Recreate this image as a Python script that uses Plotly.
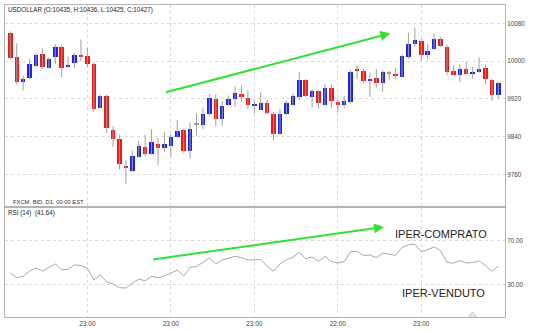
import plotly.graph_objects as go

# Daily USDOLLAR candles (FXCM, bid)
opens = [10059, 10009, 9956, 9965, 9989, 10015, 9985, 10008, 10031, 9988,
         9996, 10014, 10010, 9993, 9901, 9926, 9854, 9834, 9777, 9767,
         9797, 9819, 9804, 9824, 9815, 9821, 9840, 9853, 9810, 9865,
         9865, 9887, 9919, 9877, 9907, 9919, 9931, 9922, 9906, 9897,
         9911, 9888, 9846, 9888, 9908, 9925, 9961, 9925, 9936, 9908,
         9944, 9914, 9908, 9914, 9983, 9980, 9958, 9964, 9954, 9974,
         9972, 9967, 10009, 10037, 10042, 10013, 10025, 10046, 10029, 9980,
         9971, 9983, 9972, 9976, 9986, 9960, 9929]
highs = [10063, 10038, 9969, 10004, 10017, 10027, 10008, 10036, 10033, 10009,
         10017, 10046, 10028, 9997, 9929, 9929, 9862, 9844, 9790, 9810,
         9831, 9844, 9855, 9837, 9849, 9844, 9875, 9856, 9870, 9889,
         9900, 9931, 9929, 9915, 9927, 9947, 9949, 9938, 9919, 9934,
         9919, 9892, 9898, 9916, 9931, 9977, 9962, 9940, 9938, 9951,
         9951, 9919, 9926, 9981, 9992, 9983, 9976, 9983, 9981, 9979,
         9986, 10014, 10060, 10071, 10048, 10037, 10059, 10051, 10035, 9991,
         9993, 9999, 9988, 10009, 9993, 9962, 9956]
lows = [10004, 9950, 9938, 9962, 9987, 9983, 9984, 9994, 9966, 9985,
        9985, 10000, 9988, 9893, 9899, 9847, 9818, 9771, 9740, 9764,
        9795, 9798, 9802, 9779, 9808, 9797, 9838, 9806, 9794, 9842,
        9856, 9883, 9862, 9863, 9905, 9903, 9915, 9898, 9890, 9896,
        9886, 9832, 9844, 9885, 9906, 9918, 9924, 9901, 9899, 9907,
        9901, 9891, 9901, 9910, 9962, 9954, 9924, 9944, 9935, 9960,
        9962, 9966, 10004, 10030, 10001, 10004, 10024, 10030, 9970, 9970,
        9956, 9971, 9963, 9975, 9951, 9917, 9920]
closes = [10007, 9956, 9962, 9993, 10013, 9988, 10005, 10029, 9985, 9991,
          10013, 10010, 9993, 9898, 9927, 9858, 9835, 9782, 9774, 9799,
          9821, 9804, 9828, 9815, 9824, 9840, 9852, 9810, 9857, 9865,
          9887, 9921, 9877, 9904, 9919, 9933, 9925, 9908, 9908, 9912,
          9889, 9846, 9888, 9911, 9926, 9960, 9926, 9937, 9911, 9944,
          9915, 9908, 9915, 9976, 9980, 9958, 9963, 9954, 9978, 9974,
          9969, 10010, 10037, 10044, 10012, 10021, 10046, 10032, 9978, 9971,
          9983, 9973, 9977, 9983, 9962, 9929, 9954]

# RSI(14)
rsi = [40.5, 36.0, 37.5, 42.1, 45.1, 42.1, 45.5, 48.7, 43.3, 43.9,
       47.8, 47.3, 44.8, 33.9, 38.7, 32.4, 30.3, 26.9, 26.6, 31.2,
       34.8, 33.3, 37.3, 36.0, 37.8, 40.5, 43.0, 37.8, 45.5, 46.6,
       50.0, 54.5, 48.7, 52.4, 53.9, 55.7, 54.5, 52.4, 52.4, 53.0,
       46.6, 42.1, 48.7, 52.7, 54.8, 59.4, 53.6, 55.1, 51.2, 55.7,
       50.9, 49.6, 50.9, 60.0, 60.3, 56.4, 56.9, 54.5, 58.7, 57.8,
       56.6, 63.9, 66.4, 66.9, 60.0, 61.8, 64.5, 60.9, 50.3, 49.4,
       51.8, 49.6, 50.0, 51.5, 47.3, 42.1, 46.6]

time_tick_pos = [12, 25, 38, 51, 64]
time_tick_text = ["23:00", "23:00", "23:00", "22:00", "23:00"]
price_ticks = [9760, 9840, 9920, 10000, 10080]
rsi_ticks = [30, 70]
rsi_tick_text = ["30.00", "70.00"]

UP, DOWN, FLAT = "#1a22e6", "#ee1a1a", "#9a9a9a"
GRID = "#d9d9d9"
BORDER = "#b4b4b4"
FONT = "Liberation Sans, Arial, sans-serif"

n = len(opens)
xs = list(range(n))

# wicks as one broken line
wick_x, wick_y = [], []
for i in xs:
    wick_x += [i, i, None]
    wick_y += [lows[i], highs[i], None]

body_base = [min(o, c) for o, c in zip(opens, closes)]
body_h = [max(abs(c - o), 2) for o, c in zip(opens, closes)]
body_col = [UP if c > o else DOWN if c < o else FLAT for o, c in zip(opens, closes)]

fig = go.Figure()
fig.add_trace(go.Scatter(x=wick_x, y=wick_y, mode="lines",
                         line=dict(color="#a0a0a0", width=1),
                         hoverinfo="skip", xaxis="x", yaxis="y"))
fig.add_trace(go.Bar(x=xs, y=body_h, base=body_base, width=0.7,
                     marker=dict(color=body_col, line=dict(width=0)),
                     xaxis="x", yaxis="y"))
fig.add_trace(go.Scatter(x=xs, y=rsi, mode="lines",
                         line=dict(color="#a8a8a8", width=1),
                         xaxis="x2", yaxis="y2"))
fig.add_trace(go.Scatter(x=[72], y=[1.5], mode="markers",
                         marker=dict(symbol="triangle-up", size=7, color="#ececec",
                                     line=dict(color="#c4c4c4", width=1)),
                         cliponaxis=False, xaxis="x2", yaxis="y2"))

xcommon = dict(range=[-0.83, 77.04], tickvals=time_tick_pos, ticktext=time_tick_text,
               showgrid=True, gridcolor=GRID, griddash="dot", gridwidth=1,
               showline=True, linecolor=BORDER, linewidth=1, mirror=True,
               ticks="", zeroline=False, fixedrange=True)

fig.update_layout(
    width=533, height=331,
    margin=dict(l=5, r=28, t=4, b=10),
    paper_bgcolor="white", plot_bgcolor="white",
    showlegend=False, bargap=0,
    font=dict(family=FONT, size=7, color="#333333"),
    xaxis=dict(**xcommon, domain=[0, 1], anchor="y", showticklabels=False),
    xaxis2=dict(**xcommon, domain=[0, 1], anchor="y2", matches="x",
                tickfont=dict(size=6.5, color="#444444")),
    yaxis=dict(domain=[0.356, 1], range=[9693, 10119], side="right",
               tickvals=price_ticks, ticktext=[str(v) for v in price_ticks],
               showgrid=True, gridcolor=GRID, griddash="dot",
               showline=True, linecolor=BORDER, mirror=True, ticks="",
               zeroline=False, tickfont=dict(size=6.3, color="#444444")),
    yaxis2=dict(domain=[0, 0.349], range=[0, 100], side="right",
                tickvals=rsi_ticks, ticktext=rsi_tick_text,
                showgrid=True, gridcolor=GRID, griddash="dot",
                showline=True, linecolor=BORDER, mirror=True, ticks="",
                zeroline=False, tickfont=dict(size=6.3, color="#444444")),
)

GREEN = "#33e033"
annotations = [
    dict(text="USDOLLAR (O:10435, H:10436, L:10425, C:10427)",
         xref="x domain", yref="y domain", x=0.002, y=0.975,
         xanchor="left", yanchor="middle", showarrow=False,
         font=dict(size=6.3, color="#222222")),
    dict(text="FXCM, BID, D1, 00:00 EST",
         xref="x domain", yref="y domain", x=0.011, y=0.02,
         xanchor="left", yanchor="middle", showarrow=False,
         font=dict(size=5.8, color="#333333")),
    dict(text="RSI (14)  (41.64)",
         xref="x2 domain", yref="y2 domain", x=0.002, y=0.955,
         xanchor="left", yanchor="middle", showarrow=False,
         font=dict(size=6.3, color="#222222")),
    dict(text="", x=59.2, y=10059, ax=24, ay=9933,
         xref="x", yref="y", axref="x", ayref="y",
         showarrow=True, arrowhead=2, arrowsize=1, arrowwidth=2,
         arrowcolor=GREEN),
    dict(text="", x=58.2, y=82.7, ax=22, ay=52.7,
         xref="x2", yref="y2", axref="x2", ayref="y2",
         showarrow=True, arrowhead=2, arrowsize=1, arrowwidth=2,
         arrowcolor=GREEN),
    dict(text="IPER-COMPRATO", x=67.1, y=76, xref="x2", yref="y2",
         showarrow=False, font=dict(size=11, color="#222222")),
    dict(text="IPER-VENDUTO", x=67.4, y=22.4, xref="x2", yref="y2",
         showarrow=False, font=dict(size=11, color="#222222")),
]
fig.update_layout(annotations=annotations)

fig.write_html("out.html")
